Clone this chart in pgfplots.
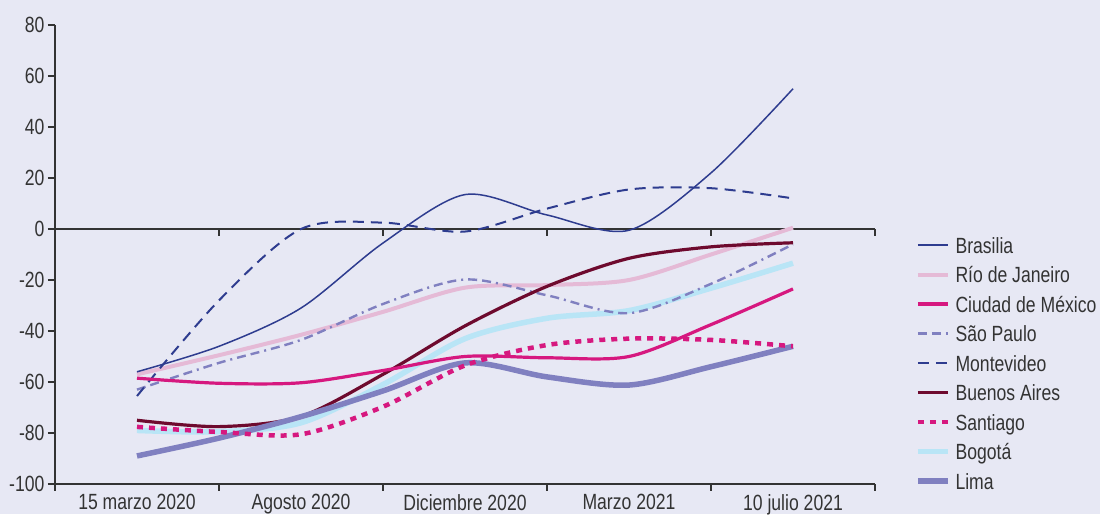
\documentclass[border=0pt]{standalone}
\usepackage{fontspec}
\setmainfont{Liberation Sans}[FakeStretch=0.8]
\usepackage{pgfplots}
\pgfplotsset{compat=1.18}
\definecolor{bg}{HTML}{E7E8F4}
\definecolor{txt}{HTML}{333333}
\definecolor{cblue}{HTML}{2E3C8F}
\definecolor{crio}{HTML}{E5BAD6}
\definecolor{cmag}{HTML}{D6187F}
\definecolor{cperi}{HTML}{8080C0}
\definecolor{cba}{HTML}{6E0A2E}
\definecolor{cbog}{HTML}{B9E5F6}
\pgfplotsset{
  sBrasilia/.style={cblue, line width=1.5pt},
  sRio/.style={crio, line width=4pt},
  sCdmx/.style={cmag, line width=3.2pt},
  sSP/.style={cperi, line width=2.4pt, dash pattern=on 9pt off 5pt on 9pt off 5pt on 2pt off 5pt},
  sMvd/.style={cblue, line width=2pt, dash pattern=on 11pt off 7pt},
  sBA/.style={cba, line width=3.2pt},
  sStgo/.style={cmag, line width=4.5pt, dash pattern=on 6pt off 6pt},
  sBog/.style={cbog, line width=5.5pt},
  sLima/.style={cperi, line width=5.5pt},
}
\begin{document}
\begin{tikzpicture}[x=1pt,y=1pt]
\fill[bg] (0,0) rectangle (1100,514);
\useasboundingbox (0,0) rectangle (1100,514);
\begin{axis}[
  at={(55pt,30pt)}, anchor=south west,
  scale only axis, width=820pt, height=459pt,
  xmin=-0.5, xmax=4.5, ymin=-100, ymax=80,
  axis lines*=left,
  axis line style={draw=txt, line width=1.3pt, -},
  xtick={0,1,2,3,4},
  xticklabels={15 marzo 2020, Agosto 2020, Diciembre 2020, Marzo 2021, 10 julio 2021},
  xtick style={draw=none},
  ytick={-100,-80,...,80},
  ytick style={draw=txt, line width=1.2pt},
  tick align=outside, major tick length=7pt,
  tick label style={font=\fontsize{22}{24}\selectfont, text=txt},
  /pgf/number format/assume math mode=true,
  clip=false,
  legend style={at={(axis description cs:1.0488,0.5381)}, anchor=north west,
    draw=none, fill=none, inner sep=0pt, outer sep=0pt,
    row sep=13.5pt, column sep=5pt,
    font=\fontsize{22}{24}\selectfont, text=txt,
    nodes={inner sep=0pt, text height=16pt, text depth=0pt, anchor=west},
    cells={anchor=west}},
  legend cell align=left,
  legend image code/.code={\draw[#1, line cap=butt] (0pt,0pt) -- (30pt,0pt);},
]
\draw[txt, line width=1.3pt] (axis cs:-0.5,0) -- (axis cs:4.5,0);
\pgfplotsinvokeforeach{-0.5,0.5,1.5,2.5,3.5,4.5}{
  \draw[txt, line width=1.2pt] (axis cs:#1,-100) -- ++(0pt,-7pt);
  \draw[txt, line width=1.2pt] (axis cs:#1,0) -- ++(0pt,-7pt);
}
% Bogota
\addplot[sBog, smooth, forget plot] coordinates {(0,-79) (0.5,-79.5) (1,-76) (1.5,-61) (2,-43) (2.5,-35) (3,-32) (3.5,-23.2) (4,-13.4)};
% Rio
\addplot[sRio, smooth, forget plot] coordinates {(0,-57) (0.5,-49.5) (1,-41.5) (1.5,-32.5) (2,-23) (2.5,-22) (3,-20) (3.5,-10) (4,0.5)};
% Sao Paulo
\addplot[sSP, smooth, forget plot] coordinates {(0,-63) (0.5,-52.5) (1,-43.5) (1.5,-29.4) (2,-19.8) (2.5,-26) (3,-33) (3.5,-21.5) (4,-6)};
% Brasilia
\addplot[sBrasilia, smooth, forget plot] coordinates {(0,-56) (0.5,-46) (1,-31) (1.5,-5.5) (2,13.5) (2.5,5.5) (3,-0.5) (3.5,22) (4,55)};
% Montevideo
\addplot[sMvd, smooth, forget plot] coordinates {(0,-65.5) (0.5,-28) (1,0) (1.5,2.5) (2,-1) (2.5,8) (3,15.5) (3.5,16) (4,12)};
% Buenos Aires
\addplot[sBA, smooth, forget plot] coordinates {(0,-75) (0.5,-77.5) (1,-73.5) (1.5,-57) (2,-38) (2.5,-22.5) (3,-11.5) (3.5,-7) (4,-5.4)};
% Ciudad de Mexico
\addplot[sCdmx, smooth, forget plot] coordinates {(0,-58.5) (0.5,-60.5) (1,-60.3) (1.5,-55.5) (2,-50) (2.5,-50.5) (3,-50) (3.5,-37.5) (4,-23.5)};
% Lima
\addplot[sLima, smooth, forget plot] coordinates {(0,-89) (0.5,-82) (1,-73.6) (1.5,-63.5) (2,-52.5) (2.5,-58) (3,-61.2) (3.5,-54) (4,-46)};
% Santiago
\addplot[sStgo, smooth, forget plot] coordinates {(0,-77.6) (0.5,-79.6) (1,-80.5) (1.5,-69.7) (2,-53.5) (2.5,-45.5) (3,-43) (3.5,-43.5) (4,-46)};
% legend
\addlegendimage{sBrasilia}\addlegendentry{Brasilia}
\addlegendimage{sRio}\addlegendentry{Río de Janeiro}
\addlegendimage{sCdmx}\addlegendentry{Ciudad de México}
\addlegendimage{sSP}\addlegendentry{São Paulo}
\addlegendimage{sMvd}\addlegendentry{Montevideo}
\addlegendimage{sBA}\addlegendentry{Buenos Aires}
\addlegendimage{sStgo}\addlegendentry{Santiago}
\addlegendimage{sBog}\addlegendentry{Bogotá}
\addlegendimage{sLima}\addlegendentry{Lima}
\end{axis}
\end{tikzpicture}
\end{document}
